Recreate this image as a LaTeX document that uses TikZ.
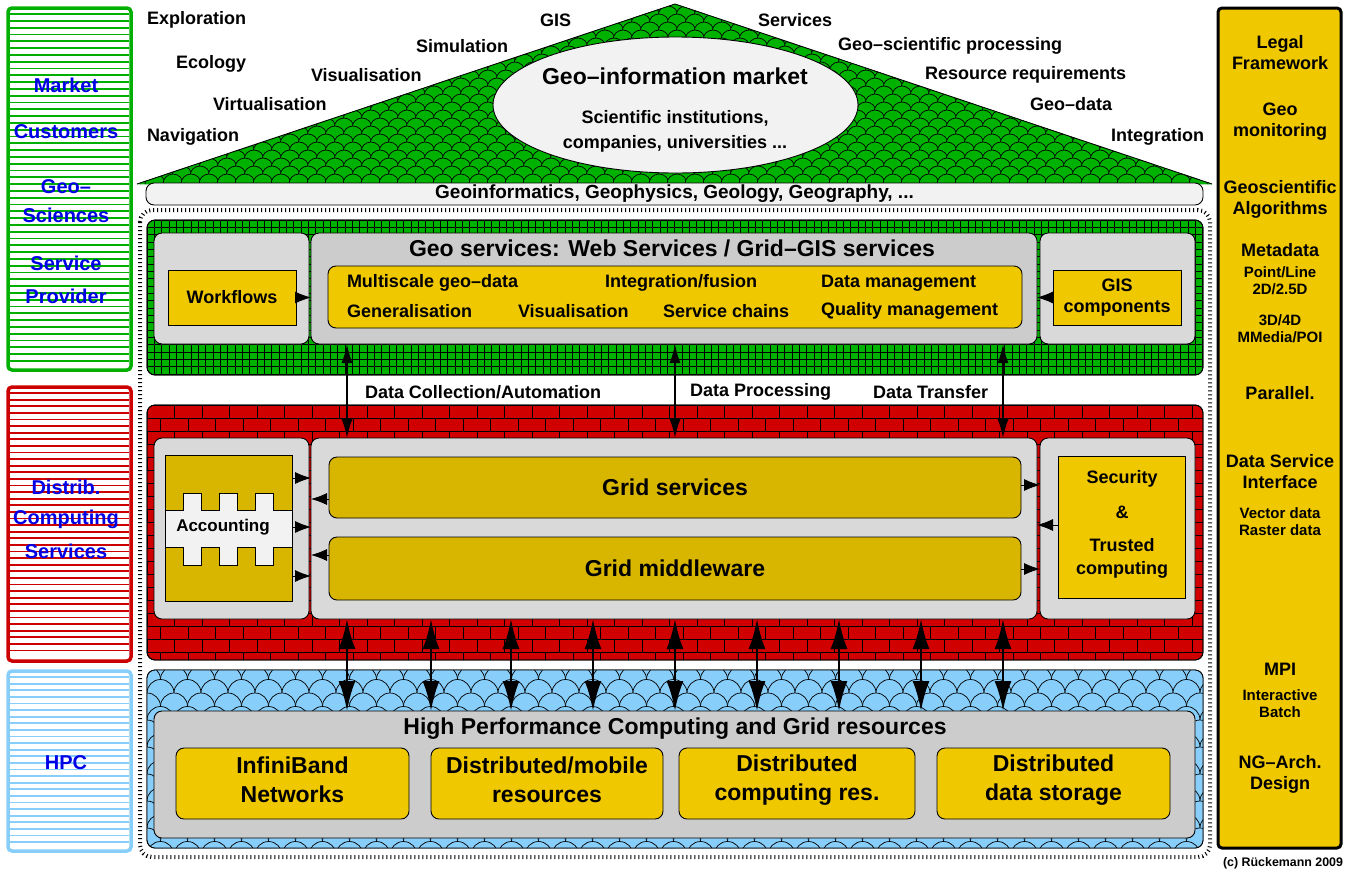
\documentclass[tikz,border=0pt]{standalone}
\usepackage{fontspec}
\setmainfont{Liberation Sans}
\usetikzlibrary{arrows.meta,shapes.geometric}
\definecolor{gfill}{RGB}{0,178,0}
\definecolor{rfill}{RGB}{208,0,0}
\definecolor{bfill}{RGB}{135,206,250}
\definecolor{gold}{RGB}{240,200,0}
\definecolor{dgold}{RGB}{216,182,0}
\definecolor{lgray}{RGB}{217,217,217}
\definecolor{mgray}{RGB}{204,204,204}
\definecolor{vlgray}{RGB}{242,242,242}
\definecolor{tblue}{RGB}{0,0,230}
\definecolor{gline}{RGB}{0,175,0}
\definecolor{rline}{RGB}{204,0,0}
\definecolor{bline}{RGB}{135,206,250}
\newcommand{\fsz}[2]{\fontsize{#1}{#2}\selectfont\bfseries}
\begin{document}
\begin{tikzpicture}[x=1pt,y=-1pt,
  every node/.style={inner sep=0pt, outer sep=0pt},
  lbl/.style={font=\fsz{18}{21}, align=center},
  lblw/.style={font=\fsz{18}{21}, anchor=west},
  big/.style={font=\fsz{23}{29}, align=center},
  sml/.style={font=\fsz{15}{17}, align=center},
  side/.style={font=\fsz{20}{24}, text=tblue},
  graybox/.style={draw=black, line width=0.9pt, fill=lgray, rounded corners=8pt},
  ybox/.style={draw=black, line width=0.9pt, fill=gold},
  dybox/.style={draw=black, line width=0.9pt, fill=dgold, rounded corners=8pt},
  layerbox/.style={draw=black, line width=0.9pt, rounded corners=8pt, minimum width=1056pt},
  colbox/.style={line width=3.5pt, rounded corners=4pt, minimum width=123pt},
  tipsm/.style={-{Latex[length=16pt,width=12pt]}, line width=0.8pt},
  dblA/.style={{Latex[length=19pt,width=11pt]}-{Latex[length=19pt,width=11pt]}, line width=1.8pt},
  dblB/.style={{Latex[length=30pt,width=17pt]}-{Latex[length=30pt,width=17pt]}, line width=2.8pt}
]
\useasboundingbox (0,0) rectangle (1348,871);

% ---------- left column ----------
\node[colbox, draw=gline, minimum height=362pt] (colA) at (69.5,189) {};
\foreach \hy in {14,20.8,...,366} \draw[gline, line width=1.8pt] (10,\hy) -- (129,\hy);
\node[colbox, draw=rline, minimum height=274pt] (colB) at (69.5,524) {};
\foreach \hy in {393,399.6,...,657} \draw[rline, line width=1.8pt] (10,\hy) -- (129,\hy);
\node[colbox, draw=bline, minimum height=180pt] (colC) at (69.5,761) {};
\foreach \hy in {677,683.6,...,847} \draw[bline, line width=1.8pt] (10,\hy) -- (129,\hy);
\node[side] (s1) at (66,85) {Market};
\node[side] (s2) at (66,132) {Customers};
\node[side] (s3) at (66,187) {Geo–};
\node[side] (s4) at (66,215) {Sciences};
\node[side] (s5) at (66,263) {Service};
\node[side] (s6) at (66,296) {Provider};
\node[side] (s7) at (66,487) {Distrib.};
\node[side] (s8) at (66,519) {Computing};
\node[side] (s9) at (66,551) {Services};
\node[side] (s10) at (66,763) {HPC};

% ---------- right column ----------
\node[draw=black, line width=3pt, fill=gold, rounded corners=4pt, minimum width=123pt, minimum height=840pt] (rcol) at (1279.5,428) {};
\node[lbl] (r1) at (1280,53) {Legal\\Framework};
\node[lbl] (r2) at (1280,122) {Geo\\monitoring};
\node[lbl] (r3) at (1280,199) {Geoscientific\\Algorithms};
\node[lbl] (r4) at (1280,250) {Metadata};
\node[sml] (r5) at (1280,281) {Point/Line\\2D/2.5D};
\node[sml] (r6) at (1280,328.5) {3D/4D\\MMedia/POI};
\node[lbl] (r7) at (1280,393) {Parallel.};
\node[lbl] (r8) at (1280,472) {Data Service\\Interface};
\node[sml] (r9) at (1280,521.5) {Vector data\\Raster data};
\node[lbl] (r10) at (1280,669) {MPI};
\node[sml] (r11) at (1280,704) {Interactive\\Batch};
\node[lbl] (r12) at (1280,774) {NG–Arch.\\Design};
\node[font=\fsz{12.4}{14}, anchor=east] (copy) at (1343,863) {(c) Rückemann 2009};

% ---------- roof ----------
\begin{scope}
\clip (137,184) -- (675,4) -- (1212,184) -- cycle;
\fill[gfill] (130,0) rectangle (1220,190);
\foreach \r in {0,...,23} {
  \foreach \c in {0,...,61} {
    \filldraw[fill=gfill, draw=black, line width=0.7pt] ({128+mod(\r,2)*9+\c*18},{\r*8}) circle (10pt);
  }
}
\end{scope}
\draw[line width=0.9pt] (137,184) -- (675,4) -- (1212,184);
\node[draw=black, line width=0.9pt, fill=vlgray, rounded corners=8pt, minimum width=1057pt, minimum height=22pt, font=\fsz{19}{22}] (band) at (674.5,194) {Geoinformatics, Geophysics, Geology, Geography, ...};
\node[ellipse, draw=black, line width=0.9pt, fill=vlgray, minimum width=365pt, minimum height=136pt] (market) at (675.5,105) {};
\node[big] (mk1) at (675,76) {Geo–information market};
\node[font=\fsz{18}{25}, align=center] (mk2) at (675,131.5) {Scientific institutions,\\companies, universities ...};

\node[lblw] (a1) at (147,20) {Exploration};
\node[lblw] (a2) at (176,64) {Ecology};
\node[lblw] (a3) at (213,104) {Virtualisation};
\node[lblw] (a4) at (147,137) {Navigation};
\node[lblw] (a5) at (416,46) {Simulation};
\node[lblw] (a6) at (311,75) {Visualisation};
\node[lblw] (a7) at (540,20) {GIS};
\node[lblw] (a8) at (758,20) {Services};
\node[lblw] (a9) at (838,46) {Geo–scientific processing};
\node[lblw] (a10) at (925,75) {Resource requirements};
\node[lblw] (a11) at (1030,104) {Geo–data};
\node[lblw] (a12) at (1111,137) {Integration};

% ---------- dotted frame ----------
\draw[line width=4pt, dash pattern=on 1pt off 3pt, rounded corners=12pt] (140,210) rectangle (1210,857);

% ---------- green layer ----------
\node[layerbox, fill=gfill, minimum height=155pt] (green) at (675,297.5) {};
\begin{scope}
\clip[rounded corners=8pt] (147,220) rectangle (1203,375);
\foreach \gx in {147,154.33,...,1204} \draw[line width=0.6pt] (\gx,220) -- (\gx,375);
\foreach \gy in {220,227.33,...,376} \draw[line width=0.6pt] (147,\gy) -- (1203,\gy);
\end{scope}
\draw[line width=0.9pt, rounded corners=8pt] (147,220) rectangle (1203,375);

\node[graybox, minimum width=155pt, minimum height=111pt] (geoL) at (231.5,288.5) {};
\node[graybox, fill=mgray, minimum width=726pt, minimum height=111pt] (geoM) at (674,288.5) {};
\node[graybox, minimum width=155pt, minimum height=111pt] (geoR) at (1117.5,288.5) {};
\node[ybox, minimum width=128pt, minimum height=55pt, lbl] (wf) at (232,297.5) {Workflows};
\node[ybox, minimum width=128pt, minimum height=55pt, lbl] (gis) at (1117,297.5) {GIS\\components};
\node[font=\fsz{23}{27}] (geot) at (672,248) {Geo services: Web Services / Grid–GIS services};
\node[ybox, rounded corners=8pt, minimum width=694pt, minimum height=62pt] (geoin) at (675,297) {};
\node[lblw] (g1) at (347,283) {Multiscale geo–data};
\node[lblw] (g2) at (605,283) {Integration/fusion};
\node[lblw] (g3) at (821,283) {Data management};
\node[lblw] (g4) at (347,311) {Generalisation};
\node[lblw] (g5) at (518,311) {Visualisation};
\node[lblw] (g6) at (663,311) {Service chains};
\node[lblw] (g7) at (821,311) {Quality management};

\node[lblw] (d1) at (365,392) {Data Collection/Automation};
\node[lblw] (d2) at (690,392) {Data Processing};
\node[lblw] (d3) at (873,392) {Data Transfer};

% ---------- red layer ----------
\node[layerbox, fill=rfill, minimum height=255pt] (red) at (675,532.5) {};
\begin{scope}
\clip[rounded corners=8pt] (147,405) rectangle (1203,660);
\foreach \r in {0,...,19} {
  \pgfmathsetmacro\byy{405+\r*13}
  \pgfmathsetmacro\boff{mod(\r,2)*13.75}
  \draw[line width=0.7pt] (147,\byy) -- (1203,\byy);
  \foreach \c in {0,...,39} {\draw[line width=0.7pt] ({147+\boff+\c*27.5},\byy) -- ++(0,13);}
}
\end{scope}
\draw[line width=0.9pt, rounded corners=8pt] (147,405) rectangle (1203,660);

\node[graybox, minimum width=155pt, minimum height=181pt] (redL) at (231.5,528.5) {};
\node[graybox, minimum width=726pt, minimum height=181pt] (redM) at (674,528.5) {};
\node[graybox, minimum width=155pt, minimum height=181pt] (redR) at (1117.5,528.5) {};
\node[draw=black, line width=0.9pt, fill=dgold, minimum width=127pt, minimum height=146pt] (acc) at (228.5,528) {};
\filldraw[fill=vlgray, draw=black, line width=0.9pt] (165,510) -- (183,510) -- (183,493) -- (201,493) -- (201,510) -- (219,510) -- (219,493) -- (237,493) -- (237,510) -- (255,510) -- (255,493) -- (273,493) -- (273,510) -- (292,510) -- (292,547) -- (273,547) -- (273,565) -- (255,565) -- (255,547) -- (237,547) -- (237,565) -- (219,565) -- (219,547) -- (201,547) -- (201,565) -- (183,565) -- (183,547) -- (165,547) -- cycle;
\node[font=\fsz{17}{20}] (accl) at (223,527) {Accounting};
\node[dybox, minimum width=692pt, minimum height=61pt, big] (gs) at (675,487.5) {Grid services};
\node[dybox, minimum width=692pt, minimum height=63pt, big] (gm) at (675,568.5) {Grid middleware};
\node[ybox, minimum width=127pt, minimum height=142pt] (sec) at (1121.5,527) {};
\node[lbl] (sec1) at (1122,479) {Security};
\node[lbl] (sec2) at (1122,512) {\&};
\node[lbl] (sec3) at (1122,545) {Trusted};
\node[lbl] (sec4) at (1122,570) {computing};

% ---------- blue layer ----------
\node[layerbox, fill=bfill, minimum height=178pt] (blue) at (675,759) {};
\begin{scope}
\clip[rounded corners=8pt] (147,670) rectangle (1203,848);
\foreach \r in {0,...,14} {
  \foreach \c in {0,...,40} {
    \filldraw[fill=bfill, draw=black, line width=0.7pt] ({133.5+mod(\r,2)*13.5+\c*27},{666+\r*13.5}) circle (13.5pt);
  }
}
\end{scope}
\draw[line width=0.9pt, rounded corners=8pt] (147,670) rectangle (1203,848);
\node[graybox, fill=mgray, minimum width=1041pt, minimum height=127pt] (hpc) at (674.5,774.5) {};
\node[big] (hpct) at (675,729) {High Performance Computing and Grid resources};
\node[ybox, rounded corners=8pt, minimum width=233pt, minimum height=71pt] (hb1) at (292.5,783.5) {};
\node[ybox, rounded corners=8pt, minimum width=232pt, minimum height=71pt] (hb2) at (547,783.5) {};
\node[ybox, rounded corners=8pt, minimum width=236pt, minimum height=71pt] (hb3) at (797,783.5) {};
\node[ybox, rounded corners=8pt, minimum width=233pt, minimum height=71pt] (hb4) at (1053.5,783.5) {};
\node[big] (hb1t) at (292.5,780) {InfiniBand\\Networks};
\node[big] (hb2t) at (547,780) {Distributed/mobile\\resources};
\node[big] (hb3t) at (797,780) {Distributed\\computing res.};
\node[big] (hb4t) at (1053.5,780) {Distributed\\data storage};

% ---------- horizontal arrow tips ----------
\draw[tipsm] (wf.east) -- (wf.east -| geoM.west);
\draw[tipsm] (gis.west) -- (gis.west -| geoM.east);
\foreach \yy/\nm in {478/h1,527/h2,576/h3} {
  \coordinate (\nm) at (0,\yy);
  \draw[tipsm] (\nm -| acc.east) -- (\nm -| redM.west);
}
\coordinate (h4) at (0,499);
\coordinate (h5) at (0,555);
\coordinate (h6) at (0,485);
\coordinate (h7) at (0,569);
\coordinate (h8) at (0,525);
\draw[tipsm] (h4 -| gs.west) -- (h4 -| redM.west);
\draw[tipsm] (h5 -| gm.west) -- (h5 -| redM.west);
\draw[tipsm] (h6 -| gs.east) -- (h6 -| redR.west);
\draw[tipsm] (h7 -| gm.east) -- (h7 -| redR.west);
\draw[tipsm] (h8 -| sec.west) -- (h8 -| redM.east);

% ---------- vertical arrows ----------
\foreach \xx/\nm in {347/v1,675/v2,1003/v3} {
  \coordinate (\nm) at (\xx,0);
  \draw[dblA] (\nm |- geoM.south) -- (\nm |- redM.north);
}
\foreach \xx/\nm in {347/w1,431/w2,511/w3,593/w4,675/w5,757/w6,839/w7,921/w8,1003/w9} {
  \coordinate (\nm) at (\xx,0);
  \draw[dblB] (\nm |- redM.south) -- (\nm |- hpc.north);
}
\end{tikzpicture}
\end{document}
